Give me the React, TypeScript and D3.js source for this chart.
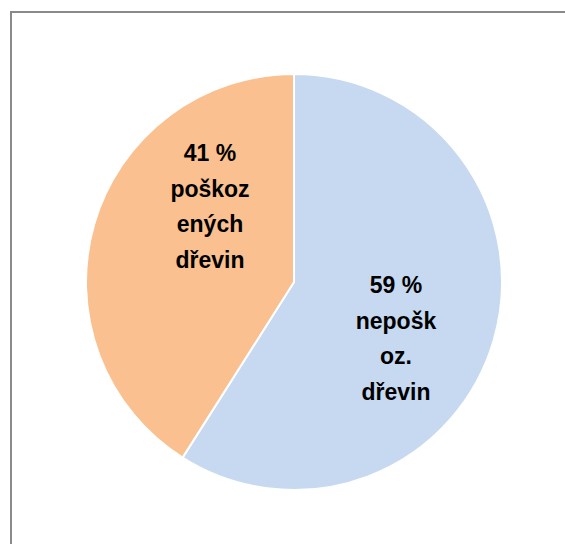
import React from "react";
import * as d3 from "d3";

const categories = ["nepoškoz. dřevin", "poškozených dřevin"];
const values = [59, 41];
const labelLines = [
  ["59 %", "nepošk", "oz.", "dřevin"],
  ["41 %", "poškoz", "ených", "dřevin"],
];
const colors = ["#C6D9F1", "#FAC090"];

export default function App() {
  const W = 565;
  const H = 544;
  const cx = 294;
  const cy = 282;
  const R = 208;
  const pie = d3.pie<number>().sort(null).value((d) => d)(values);
  const arc = d3.arc<d3.PieArcDatum<number>>().innerRadius(0).outerRadius(R);
  // label anchors (relative offsets from pie center, layout only)
  const labelPos = [
    [102, 11],
    [-84, -121],
  ];
  const lh = 35.5;
  return (
    <svg
      width={W}
      height={H}
      style={{ position: "absolute", left: 0, top: 0, background: "#fff" }}
    >
      <rect x={11} y={12} width={600} height={600} fill="#fff" stroke="#8a8a8a" strokeWidth={2} />
      <g transform={`translate(${cx},${cy})`}>
        {pie.map((p, i) => (
          <path key={categories[i]} d={arc(p) || ""} fill={colors[i]} stroke="#fff" strokeWidth={2} />
        ))}
        {pie.map((p, i) => (
          <text
            key={"l" + i}
            x={labelPos[i][0]}
            y={labelPos[i][1]}
            textAnchor="middle"
            fontFamily="'Liberation Sans', Arial, sans-serif"
            fontWeight="bold"
            fontSize={23}
            fill="#000"
          >
            {labelLines[i].map((t, j) => (
              <tspan key={j} x={labelPos[i][0]} y={labelPos[i][1] + j * lh}>
                {t}
              </tspan>
            ))}
          </text>
        ))}
      </g>
    </svg>
  );
}
